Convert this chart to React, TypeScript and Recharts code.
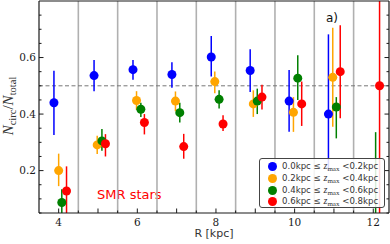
import React from "react";
import { ScatterChart, Scatter, XAxis, YAxis, ErrorBar, ReferenceLine } from "recharts";

// axis ticks
const xTicks = [4, 4.5, 5, 5.5, 6, 6.5, 7, 7.5, 8, 8.5, 9, 9.5, 10, 10.5, 11, 11.5, 12];
const xTickLabels = [4, 6, 8, 10, 12];
const yTicks = [0.05, 0.1, 0.15, 0.2, 0.25, 0.3, 0.35, 0.4, 0.45, 0.5, 0.55, 0.6, 0.65, 0.7, 0.75];
const yTickLabels = [0.2, 0.4, 0.6];
const binEdges = [4.5, 5.5, 6.5, 7.5, 8.5, 9.5, 10.5, 11.5];
const xDomain = [3.5, 12.4];
const yDomain = [0.05, 0.8];

// 0.0 - 0.2 kpc
const rBlue = [3.88, 4.9, 5.89, 6.88, 7.88, 8.87, 9.86, 10.86];
const fBlue = [0.44, 0.536, 0.557, 0.54, 0.602, 0.554, 0.446, 0.4];
const loBlue = [0.326, 0.481, 0.521, 0.493, 0.533, 0.478, 0.337, 0.2];
const hiBlue = [0.553, 0.591, 0.591, 0.583, 0.676, 0.629, 0.556, 0.682];

// 0.2 - 0.4 kpc
const rOrange = [4.0, 4.98, 5.98, 6.97, 7.97, 8.95, 9.97, 10.97];
const fOrange = [0.2, 0.291, 0.448, 0.446, 0.515, 0.436, 0.406, 0.53];
const loOrange = [0.145, 0.259, 0.415, 0.41, 0.474, 0.39, 0.337, 0.355];
const hiOrange = [0.26, 0.323, 0.481, 0.48, 0.551, 0.484, 0.46, 0.705];

// 0.4 - 0.6 kpc
const rGreen = [4.08, 5.1, 6.09, 7.08, 8.08, 9.05, 10.08, 11.06, 12.06];
const fGreen = [0.087, 0.305, 0.417, 0.405, 0.452, 0.446, 0.527, 0.425, 0.0];
const loGreen = [0.03, 0.27, 0.39, 0.37, 0.42, 0.4, 0.45, 0.314, -0.3];
const hiGreen = [0.134, 0.347, 0.44, 0.44, 0.484, 0.49, 0.608, 0.46, 0.336];

// 0.6 - 0.8 kpc
const rRed = [4.2, 5.19, 6.18, 7.18, 8.18, 9.17, 10.18, 11.16, 12.16];
const fRed = [0.128, 0.295, 0.37, 0.285, 0.365, 0.46, 0.436, 0.55, 0.5];
const loRed = [0.0, 0.25, 0.328, 0.242, 0.34, 0.416, 0.358, 0.385, 0.0];
const hiRed = [0.215, 0.329, 0.4, 0.33, 0.396, 0.504, 0.515, 0.714, 0.95];

const zLow = ["0.0", "0.2", "0.4", "0.6"];
const zHigh = ["0.2", "0.4", "0.6", "0.8"];
const colors = ["#0000ff", "#ffa500", "#008000", "#ff0000"];

// error bars are cut at the frame, points outside the frame are left out
const build = (r: number[], f: number[], lo: number[], hi: number[]) =>
  r
    .map((x, i) => {
      const l = Math.max(lo[i], yDomain[0]);
      const h = Math.min(hi[i], yDomain[1]);
      const y = Math.min(Math.max(f[i], yDomain[0]), yDomain[1]);
      return { x, y, err: [y - l, h - y], inside: f[i] >= yDomain[0] };
    });

const series = [
  build(rBlue, fBlue, loBlue, hiBlue),
  build(rOrange, fOrange, loOrange, hiOrange),
  build(rGreen, fGreen, loGreen, hiGreen),
  build(rRed, fRed, loRed, hiRed),
];

const INK = "#1a1a1a";
const SERIF = "'DejaVu Serif', serif";
const SANS = "'DejaVu Sans', sans-serif";

const BottomTick = ({ x, y, payload }: any) => {
  const v = payload.value;
  const major = Number.isInteger(v);
  return (
    <g>
      <line x1={x} x2={x} y1={y} y2={y - (major ? 4.5 : 2.5)} stroke={INK} strokeWidth={1} />
      {xTickLabels.includes(v) && (
        <text x={x} y={y + 12.5} textAnchor="middle" fontSize={10.5} fontFamily={SERIF} fill={INK}>
          {v}
        </text>
      )}
    </g>
  );
};

const TopTick = ({ x, y, payload }: any) => {
  const major = Number.isInteger(payload.value);
  return <line x1={x} x2={x} y1={y} y2={y + (major ? 4.5 : 2.5)} stroke={INK} strokeWidth={1} />;
};

const LeftTick = ({ x, y, payload }: any) => {
  const v = payload.value;
  const major = yTickLabels.includes(v);
  return (
    <g>
      <line x1={x} x2={x + (major ? 4.5 : 2.5)} y1={y} y2={y} stroke={INK} strokeWidth={1} />
      {major && (
        <text x={x - 3} y={y + 3.8} textAnchor="end" fontSize={10.5} fontFamily={SERIF} fill={INK}>
          {v.toFixed(1)}
        </text>
      )}
    </g>
  );
};

const RightTick = ({ x, y, payload }: any) => {
  const major = yTickLabels.includes(payload.value);
  return <line x1={x} x2={x - (major ? 4.5 : 2.5)} y1={y} y2={y} stroke={INK} strokeWidth={1} />;
};

const Dot = ({ cx, cy, payload, fill }: any) =>
  payload.inside ? <circle cx={cx} cy={cy} r={4.5} fill={fill} /> : <g />;

function LegendBox() {
  return (
    <div
      style={{
        position: "absolute",
        left: 259,
        top: 158,
        width: 126,
        height: 50,
        border: "1px solid #444",
        borderRadius: 3,
        background: "rgba(255,255,255,0.85)",
        boxSizing: "border-box",
        padding: "2px 0 0 8px",
      }}
    >
      {colors.map((c, i) => (
        <div key={i} style={{ display: "flex", alignItems: "center", height: 11.7, fontFamily: SANS, fontSize: 8.6, color: "#333", whiteSpace: "nowrap" }}>
          <span style={{ width: 9, height: 9, borderRadius: "50%", background: c, marginRight: 5, flex: "none" }} />
          <span>
            {zLow[i]}kpc <span style={{ fontFamily: SERIF }}>≤</span>{" "}
            <span style={{ fontFamily: "'Liberation Serif', serif", fontStyle: "italic", fontSize: 10 }}>z</span>
            <sub style={{ fontFamily: "'Liberation Serif', serif", fontSize: 7, verticalAlign: -2 }}>max</sub>{" "}
            &lt;{zHigh[i]}kpc
          </span>
        </div>
      ))}
    </div>
  );
}

export default function App() {
  return (
    <div style={{ position: "absolute", left: 0, top: 0, width: 390, height: 244, background: "#fff" }}>
      <ScatterChart width={390} height={244} margin={{ top: 0, right: 0, left: 38, bottom: 30 }}>
        <XAxis
          type="number"
          dataKey="x"
          domain={xDomain}
          allowDataOverflow
          ticks={xTicks}
          interval={0}
          height={1}
          tickSize={0}
          tickMargin={0}
          tickLine={false}
          tick={<BottomTick />}
          axisLine={{ stroke: INK, strokeWidth: 1.2 }}
        />
        <XAxis
          xAxisId="top"
          orientation="top"
          type="number"
          domain={xDomain}
          allowDataOverflow
          ticks={xTicks}
          interval={0}
          height={1}
          tickSize={0}
          tickMargin={0}
          tickLine={false}
          tick={<TopTick />}
          axisLine={{ stroke: INK, strokeWidth: 1.2 }}
        />
        <YAxis
          type="number"
          dataKey="y"
          domain={yDomain}
          allowDataOverflow
          ticks={yTicks}
          interval={0}
          width={1}
          tickSize={0}
          tickMargin={0}
          tickLine={false}
          tick={<LeftTick />}
          axisLine={{ stroke: INK, strokeWidth: 1.2 }}
        />
        <YAxis
          yAxisId="right"
          orientation="right"
          type="number"
          domain={yDomain}
          allowDataOverflow
          ticks={yTicks}
          interval={0}
          width={1}
          tickSize={0}
          tickMargin={0}
          tickLine={false}
          tick={<RightTick />}
          axisLine={{ stroke: INK, strokeWidth: 1.2 }}
        />
        {binEdges.map((b) => (
          <ReferenceLine key={b} x={b} stroke="#b0b0b0" strokeWidth={1.6} />
        ))}
        <ReferenceLine y={0.5} stroke="#777" strokeDasharray="4 2.5" strokeWidth={1} />
        {series.map((d, i) => (
          <Scatter key={i} data={d} fill={colors[i]} shape={<Dot />} isAnimationActive={false}>
            <ErrorBar dataKey="err" direction="y" width={0} stroke={colors[i]} strokeWidth={1.5} isAnimationActive={false} />
          </Scatter>
        ))}
        <text x={97} y={199} fontFamily={SANS} fontSize={13} fill="#ff0000">
          SMR stars
        </text>
        <text x={326} y={22} fontFamily={SANS} fontSize={12} fill="#111">
          a)
        </text>
        <text x={214} y={237} textAnchor="middle" fontFamily={SANS} fontSize={11} fill="#333">
          R [kpc]
        </text>
        <text
          x={13}
          y={106}
          textAnchor="middle"
          transform="rotate(-90 13 106)"
          fontFamily="'Liberation Serif', serif"
          fontSize={15}
          fill="#333"
        >
          <tspan fontStyle="italic">N</tspan>
          <tspan fontSize={10.5} dy={3}>circ</tspan>
          <tspan dy={-3}>/</tspan>
          <tspan fontStyle="italic">N</tspan>
          <tspan fontSize={10.5} dy={3}>total</tspan>
        </text>
      </ScatterChart>
      <LegendBox />
    </div>
  );
}
